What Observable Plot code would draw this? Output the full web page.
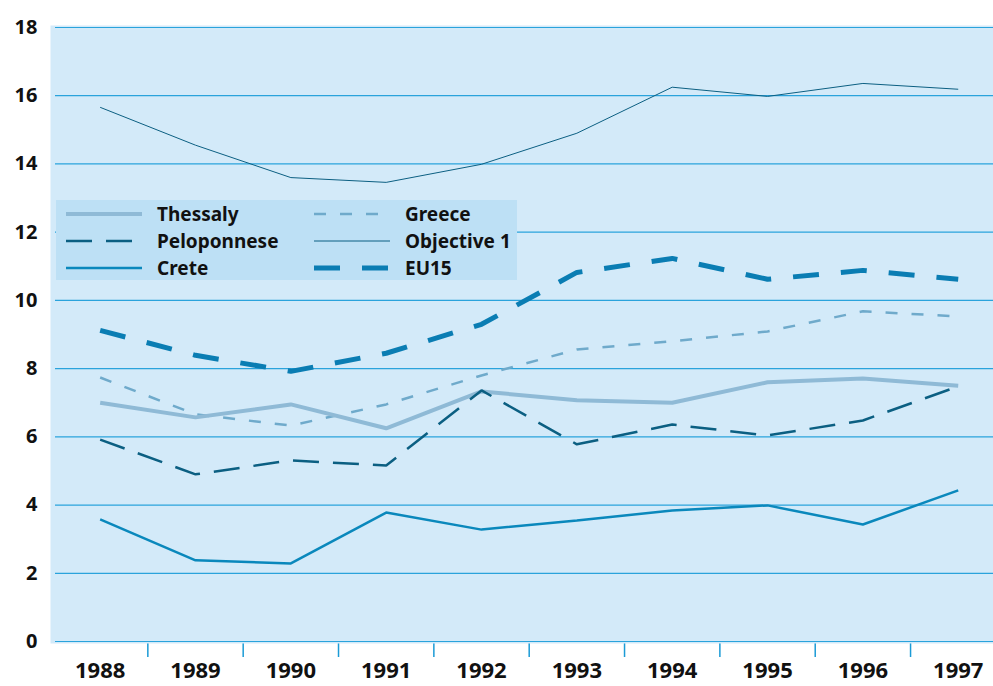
<!DOCTYPE html>
<html><head><meta charset="utf-8">
<script src="https://cdn.jsdelivr.net/npm/d3@7"></script>
<script src="https://cdn.jsdelivr.net/npm/@observablehq/plot@0.6"></script>
<style>
body{margin:0;background:#fff;font-family:"Noto Sans",sans-serif;}
#wrap{position:relative;width:993px;height:686px;overflow:hidden;}
#legend{position:absolute;left:56px;top:200px;width:461px;height:80px;background:#bde0f5;}
</style></head>
<body><div id="wrap"><div id="chart"></div><div id="legend"></div></div>
<script>
const years = [1988,1989,1990,1991,1992,1993,1994,1995,1996,1997];
const thessaly    = [7.00,6.57,6.95,6.25,7.33,7.07,7.00,7.60,7.71,7.50];
const peloponnese = [5.92,4.90,5.31,5.16,7.36,5.78,6.36,6.04,6.48,7.48];
const crete       = [3.58,2.38,2.29,3.78,3.28,3.55,3.84,3.99,3.43,4.43];
const greece      = [7.74,6.66,6.33,6.95,7.80,8.56,8.80,9.09,9.68,9.53];
const objective1  = [15.66,14.55,13.60,13.46,13.99,14.90,16.25,15.98,16.36,16.19];
const eu15        = [9.12,8.39,7.92,8.45,9.30,10.82,11.23,10.62,10.88,10.62];
const yTicks = [0,2,4,6,8,10,12,14,16,18];
const bandEdges = [1988.5,1989.5,1990.5,1991.5,1992.5,1993.5,1994.5,1995.5,1996.5];

const styles = {
  "Thessaly":    {stroke:"#8fbad6", strokeWidth:4,   dash:null},
  "Peloponnese": {stroke:"#0b5f82", strokeWidth:2.5, dash:"26,14"},
  "Crete":       {stroke:"#0a88bc", strokeWidth:2.5, dash:null},
  "Greece":      {stroke:"#6faacb", strokeWidth:2.5, dash:"12,14"},
  "Objective 1": {stroke:"#0b5f82", strokeWidth:1,   dash:null},
  "EU15":        {stroke:"#0a7db3", strokeWidth:5,   dash:"26,22"}
};
const seriesList = [
  ["Objective 1", objective1],
  ["EU15", eu15],
  ["Greece", greece],
  ["Thessaly", thessaly],
  ["Peloponnese", peloponnese],
  ["Crete", crete]
];
const rows = name => arr => years.map((y,i)=>({year:y, value:arr[i], name}));

const lineMarks = seriesList.map(([name,arr]) => {
  const s = styles[name];
  return Plot.line(rows(name)(arr), {x:"year", y:"value", stroke:s.stroke, strokeWidth:s.strokeWidth,
    strokeDasharray:s.dash, strokeLinejoin:"miter", strokeLinecap:"butt"});
});

const chart = Plot.plot({
  width:993, height:686,
  marginLeft:52, marginRight:0, marginTop:27, marginBottom:45,
  x:{type:"linear", domain:[1987.5,1997.37]},
  y:{domain:[0,18]},
  style:{fontFamily:"'Noto Sans',sans-serif", background:"#fff", overflow:"visible"},
  marks:[
    Plot.axisX(bandEdges, {tickSize:16, tickFormat:()=>"", stroke:"#1b9bd6", strokeWidth:1.5, label:null}),
    Plot.frame({fill:"#d3eaf9", stroke:null, insetTop:-2, insetBottom:-2, insetLeft:-2}),
    Plot.ruleY(yTicks, {stroke:"#2aa3dc", strokeWidth:1.2, insetLeft:3}),
    ...lineMarks,
    Plot.axisX(years, {tickSize:0, tickPadding:21, fontSize:22, fontWeight:"bold", fill:"#111", tickFormat:d=>String(d), label:null, style:{letterSpacing:"0.5px"}}),
    Plot.axisY(yTicks, {tickSize:0, tickPadding:15, fontSize:20, fontWeight:"bold", fill:"#111", label:null})
  ]
});
document.getElementById("chart").appendChild(chart);

// legend
const legendItems = [
  ["Thessaly",0,0],["Peloponnese",0,1],["Crete",0,2],
  ["Greece",1,0],["Objective 1",1,1],["EU15",1,2]
];
const ns = "http://www.w3.org/2000/svg";
const lsvg = document.createElementNS(ns,"svg");
lsvg.setAttribute("width",461); lsvg.setAttribute("height",80);
legendItems.forEach(([name,col,row])=>{
  const s = styles[name];
  const x0 = col===0 ? 10 : 258, ty = 14 + row*27;
  const ln = document.createElementNS(ns,"line");
  ln.setAttribute("x1",x0); ln.setAttribute("x2",x0+76);
  ln.setAttribute("y1",ty); ln.setAttribute("y2",ty);
  ln.setAttribute("stroke",s.stroke); ln.setAttribute("stroke-width",s.strokeWidth);
  if (s.dash) ln.setAttribute("stroke-dasharray", s.dash);
  lsvg.appendChild(ln);
  const t = document.createElementNS(ns,"text");
  t.setAttribute("x", col===0 ? 101 : 349); t.setAttribute("y", ty);
  t.setAttribute("dy","0.36em");
  t.setAttribute("font-size",19); t.setAttribute("font-weight","bold");
  t.setAttribute("font-family","'Noto Sans',sans-serif"); t.setAttribute("fill","#111");
  t.textContent = name;
  lsvg.appendChild(t);
});
document.getElementById("legend").appendChild(lsvg);
</script></body></html>
